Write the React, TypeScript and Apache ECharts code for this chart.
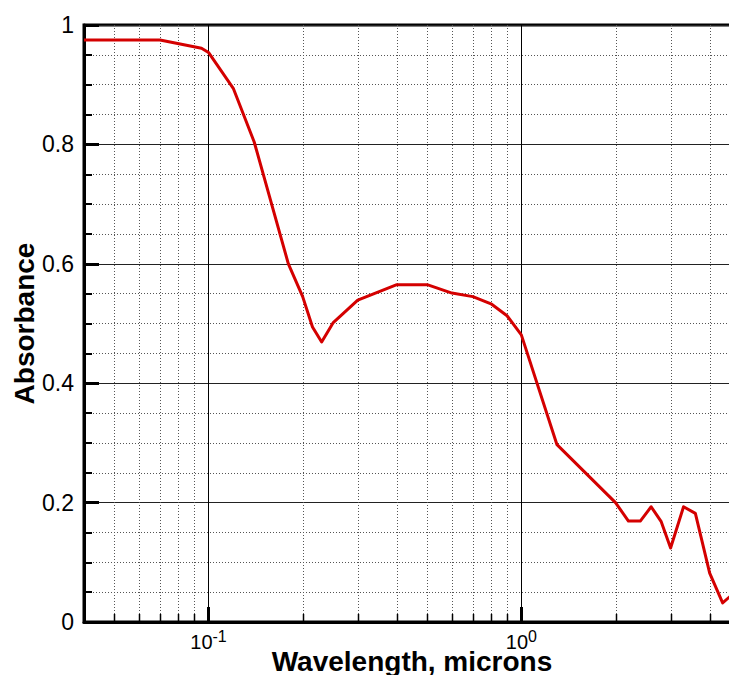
import React, { useEffect, useRef } from 'react';
import * as echarts from 'echarts';

const wavelength = [0.04, 0.07, 0.095, 0.1, 0.12, 0.14, 0.18, 0.2, 0.215, 0.23, 0.25, 0.3, 0.4, 0.5, 0.6, 0.7, 0.8, 0.9, 1.0, 1.3, 2.0, 2.2, 2.4, 2.6, 2.8, 3.0, 3.3, 3.6, 4.0, 4.4, 4.7];
const absorbance = [0.975, 0.975, 0.961, 0.954, 0.894, 0.804, 0.6, 0.545, 0.494, 0.469, 0.501, 0.539, 0.565, 0.565, 0.551, 0.545, 0.533, 0.513, 0.481, 0.297, 0.2, 0.169, 0.169, 0.193, 0.168, 0.124, 0.193, 0.182, 0.082, 0.032, 0.045];
const minorWavelengths = [0.05, 0.06, 0.07, 0.08, 0.09, 0.2, 0.3, 0.4, 0.5, 0.6, 0.7, 0.8, 0.9, 2, 3, 4];
const xMin = 0.04;
const xMax = 5;
const yMin = 0;
const yMax = 1;
const yInterval = 0.2;

const FONT = '"Liberation Sans", Arial, Helvetica, sans-serif';

export default function App() {
  const ref = useRef<HTMLDivElement>(null);
  useEffect(() => {
    if (!ref.current) return;
    const chart = echarts.init(ref.current, undefined, { renderer: 'svg' });
    chart.setOption({
      animation: false,
      backgroundColor: '#ffffff',
      textStyle: { fontFamily: FONT },
      grid: {
        left: 84,
        right: -11,
        top: 25,
        bottom: 53,
        containLabel: false,
        outerBoundsMode: 'none',
        show: true,
        borderWidth: 3,
        borderColor: '#000',
        backgroundColor: 'transparent',
      },
      xAxis: {
        type: 'log',
        logBase: 10,
        min: xMin,
        max: xMax,
        name: 'Wavelength, microns',
        nameLocation: 'middle',
        nameGap: 30,
        nameMoveOverlap: false,
        nameTextStyle: { fontSize: 28, lineHeight: 18, fontWeight: 'bold', color: '#000', fontFamily: FONT },
        axisLine: { show: true, lineStyle: { color: '#000', width: 3 } },
        axisTick: { show: true, inside: true, length: 15, lineStyle: { color: '#000', width: 3 } },
        splitLine: { show: true, lineStyle: { color: '#000', width: 1 } },
        axisLabel: {
          show: true,
          margin: 6,
          showMinLabel: false,
          showMaxLabel: false,
          formatter: (v: number) => {
            const e = Math.log10(v);
            const r = Math.round(e);
            if (Math.abs(e - r) > 1e-6) return '';
            return '{b|10}{s|' + r + '}';
          },
          rich: {
            b: { fontSize: 20, color: '#000', fontFamily: FONT, lineHeight: 24, verticalAlign: 'bottom' },
            s: { fontSize: 16, color: '#000', fontFamily: FONT, lineHeight: 16, verticalAlign: 'top' },
          },
        },
      },
      yAxis: {
        type: 'value',
        min: yMin,
        max: yMax,
        interval: yInterval,
        name: 'Absorbance',
        nameLocation: 'middle',
        nameGap: 46,
        nameMoveOverlap: false,
        nameTextStyle: { fontSize: 28, fontWeight: 'bold', color: '#000', fontFamily: FONT },
        axisLine: { show: true, lineStyle: { color: '#000', width: 3 } },
        axisTick: { show: true, inside: true, length: 15, lineStyle: { color: '#000', width: 3 } },
        minorTick: { show: true, splitNumber: 4, length: 8, lineStyle: { color: '#000', width: 2 } },
        splitLine: { show: true, lineStyle: { color: '#222', width: 1 } },
        minorSplitLine: { show: true, lineStyle: { color: '#555', width: 1, type: [1, 2] } },
        axisLabel: { fontSize: 23, color: '#000', margin: 10, fontFamily: FONT },
      },
      series: [
        {
          type: 'custom',
          silent: true,
          z: 1,
          data: minorWavelengths.map((w) => [w, 0]),
          encode: { x: 0, y: 1 },
          clip: false,
          renderItem: (params: any, api: any) => {
            const v = api.value(0);
            const top = api.coord([v, yMax]);
            const bot = api.coord([v, yMin]);
            const x = Math.round(top[0]) + 0.5;
            return {
              type: 'group',
              children: [
                {
                  type: 'line',
                  shape: { x1: x, y1: top[1], x2: x, y2: bot[1] },
                  style: { stroke: '#555', lineWidth: 1, lineDash: [1, 2] },
                },
                {
                  type: 'line',
                  shape: { x1: x, y1: bot[1], x2: x, y2: bot[1] - 8 },
                  style: { stroke: '#000', lineWidth: 1.5 },
                },
              ],
            };
          },
        },
        {
          type: 'line',
          z: 5,
          data: wavelength.map((w, i) => [w, absorbance[i]]),
          showSymbol: false,
          symbol: 'none',
          clip: true,
          lineStyle: { color: '#d40000', width: 3, join: 'round' },
          itemStyle: { color: '#d40000' },
        },
      ],
    });
    return () => chart.dispose();
  }, []);
  return (
    <div
      ref={ref}
      style={{ position: 'fixed', left: 0, top: 0, width: 729, height: 675, background: '#fff' }}
    />
  );
}
